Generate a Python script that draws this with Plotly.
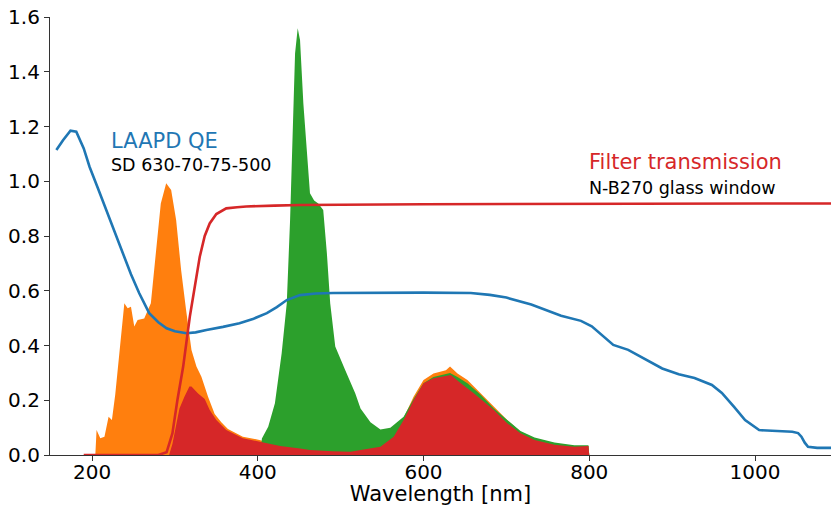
import plotly.graph_objects as go

# LAAPD QE curve
wl_qe = [157, 165, 174, 181, 190, 197, 207, 217, 227, 237, 247, 257, 269, 280, 290, 300, 314, 325, 338,
         358, 378, 395, 411, 423, 435, 451, 470, 491, 550, 600, 657, 680, 700, 730, 766, 790, 803, 815,
         829, 847, 868, 888, 908, 927, 948, 960, 975, 988, 1005, 1025, 1045, 1052, 1056, 1060, 1064, 1075, 1095]
qe = [1.114, 1.15, 1.185, 1.181, 1.12, 1.053, 0.975, 0.895, 0.815, 0.737, 0.66, 0.591, 0.518, 0.485, 0.463,
      0.452, 0.445, 0.448, 0.457, 0.468, 0.481, 0.498, 0.518, 0.54, 0.566, 0.584, 0.59, 0.592, 0.593, 0.593,
      0.592, 0.585, 0.575, 0.55, 0.509, 0.49, 0.47, 0.44, 0.402, 0.384, 0.35, 0.316, 0.295, 0.281, 0.256,
      0.227, 0.175, 0.128, 0.091, 0.087, 0.085, 0.08, 0.067, 0.045, 0.030, 0.026, 0.026]

# Filter transmission (N-B270 glass window)
wl_f = [190, 280, 290, 297, 303, 310, 318, 324, 330, 336, 342, 350, 362, 375, 386, 420, 451, 600, 800, 1000, 1095]
tr = [0.0, 0.0, 0.01, 0.079, 0.2, 0.323, 0.505, 0.62, 0.724, 0.8, 0.846, 0.88, 0.901, 0.905, 0.908, 0.911,
      0.913, 0.916, 0.918, 0.919, 0.919]

# Orange spectrum
wl_o = [204, 205.5, 210, 215, 220, 224, 228, 231, 235, 239, 243, 247, 251, 255, 263, 271, 277, 283, 289.5,
        295.5, 301.5, 307.5, 313.5, 320, 326, 332, 340, 348, 356, 364, 382, 402, 423, 445, 463, 490, 520,
        545, 565, 576, 588, 600, 612, 620, 627, 632, 641, 653, 669, 685, 701, 717, 734, 758, 782, 799, 800]
orange = [0, 0.091, 0.061, 0.067, 0.14, 0.128, 0.22, 0.31, 0.432, 0.554, 0.536, 0.542, 0.469, 0.493, 0.499,
          0.554, 0.737, 0.919, 0.993, 0.968, 0.858, 0.676, 0.53, 0.384, 0.323, 0.286, 0.213, 0.15, 0.12,
          0.095, 0.067, 0.055, 0.037, 0.026, 0.02, 0.016, 0.02, 0.035, 0.07, 0.135, 0.213, 0.274, 0.298,
          0.304, 0.31, 0.323, 0.298, 0.274, 0.225, 0.176, 0.128, 0.085, 0.061, 0.043, 0.033, 0.033, 0]

# Green spectrum
wl_g = [403, 405, 412.6, 420.7, 428.8, 435, 439, 442, 445, 448.2, 451, 455, 459, 463, 468, 473, 479, 483.4,
        487.4, 493.5, 505.6, 517.7, 524, 536, 548, 560, 568, 576, 588, 600, 612, 620, 632, 641, 653, 669,
        685, 701, 717, 734, 758, 782, 799, 800]
green = [0, 0.06, 0.103, 0.189, 0.371, 0.554, 0.858, 1.163, 1.467, 1.559, 1.516, 1.285, 1.102, 0.956, 0.93,
         0.919, 0.895, 0.737, 0.554, 0.396, 0.31, 0.225, 0.17, 0.12, 0.093, 0.1, 0.12, 0.14, 0.205, 0.262,
         0.285, 0.29, 0.3, 0.285, 0.262, 0.22, 0.17, 0.128, 0.088, 0.064, 0.046, 0.036, 0.036, 0]

# Red (filtered) spectrum
wl_r = [204, 293, 297, 301.5, 305.5, 311.5, 317.5, 320, 322, 328, 336, 342, 350, 362, 382, 402, 427, 451,
        463, 490, 512, 524, 548, 564, 576, 588, 600, 612, 622, 633, 645, 661, 685, 701, 717, 734, 758, 782,
        799, 800]
red = [0, 0, 0.04, 0.103, 0.17, 0.213, 0.25, 0.25, 0.243, 0.225, 0.205, 0.164, 0.128, 0.091, 0.061, 0.049,
       0.033, 0.024, 0.018, 0.014, 0.012, 0.018, 0.03, 0.067, 0.128, 0.2, 0.262, 0.28, 0.285, 0.292, 0.262,
       0.225, 0.164, 0.116, 0.079, 0.055, 0.037, 0.03, 0.033, 0]

x_ticks = [200, 400, 600, 800, 1000]
y_ticks = [0.0, 0.2, 0.4, 0.6, 0.8, 1.0, 1.2, 1.4, 1.6]

BLUE, ORANGE, GREEN, RED = "#1f77b4", "#ff7f0e", "#2ca02c", "#d62728"
FONT = "DejaVu Sans"

fig = go.Figure()
for xs, ys, c in [(wl_o, orange, ORANGE), (wl_g, green, GREEN), (wl_r, red, RED)]:
    fig.add_trace(go.Scatter(x=xs, y=ys, mode="lines", fill="tozeroy", fillcolor=c,
                             line=dict(width=0, color=c), hoverinfo="skip"))
fig.add_trace(go.Scatter(x=wl_qe, y=qe, mode="lines", line=dict(color=BLUE, width=2.6)))
fig.add_trace(go.Scatter(x=wl_f, y=tr, mode="lines", line=dict(color=RED, width=2.6)))

fig.add_annotation(x=221, y=1.148, text="LAAPD QE", showarrow=False, xanchor="left", yanchor="middle",
                   font=dict(family=FONT, size=21, color=BLUE))
fig.add_annotation(x=221, y=1.06, text="SD 630-70-75-500", showarrow=False, xanchor="left",
                   yanchor="middle", font=dict(family=FONT, size=17.5, color="black"))
fig.add_annotation(x=797, y=1.07, text="Filter transmission", showarrow=False, xanchor="left",
                   yanchor="middle", font=dict(family=FONT, size=21, color=RED))
fig.add_annotation(x=797, y=0.975, text="N-B270 glass window", showarrow=False, xanchor="left",
                   yanchor="middle", font=dict(family=FONT, size=17.5, color="black"))

fig.update_layout(
    width=831, height=506,
    margin=dict(l=50, r=0, t=17, b=51),
    plot_bgcolor="white", paper_bgcolor="white",
    showlegend=False,
    font=dict(family=FONT, size=20, color="black"),
    xaxis=dict(range=[149.3, 1091.7], tickvals=x_ticks, ticktext=[str(v) for v in x_ticks],
               showgrid=False, zeroline=False, showline=True, linecolor="#333", linewidth=1.2,
               ticks="outside", ticklen=5, tickcolor="#333", ticklabelstandoff=-6,
               title=dict(text="Wavelength [nm]", font=dict(size=21), standoff=2)),
    yaxis=dict(range=[0, 1.6], tickvals=y_ticks, ticktext=[f"{v:.1f}" for v in y_ticks],
               showgrid=False, zeroline=False, showline=True, linecolor="#333", linewidth=1.2,
               ticks="outside", ticklen=5, tickcolor="#333"),
)

fig.write_html("out.html")
